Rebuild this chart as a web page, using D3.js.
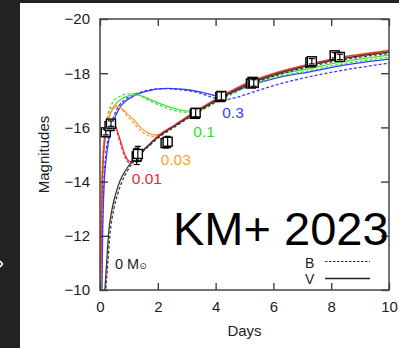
<!DOCTYPE html>
<html><head><meta charset="utf-8">
<script src="https://cdn.jsdelivr.net/npm/d3@7"></script>
<style>
html,body{margin:0;padding:0;background:#232323;}
svg{display:block;}
text{font-family:"Liberation Sans",Arial,Helvetica,sans-serif;}
</style></head>
<body>
<script>
// ---------- data ----------
const xTicks = [0, 2, 4, 6, 8, 10];
const yTicks = [-20, -18, -16, -14, -12, -10];

const blackVDays = [0.14,0.17,0.23,0.29,0.42,0.56,0.7,0.88,1.07,1.3,1.6,2.0,2.6,3.3,4.15,5.2,6.2,7.3,8.2,9.1,10];
const blackVMags = [-9.5,-10,-11,-12,-13,-13.6,-14.05,-14.4,-14.7,-14.97,-15.27,-15.64,-16.07,-16.54,-17.08,-17.63,-18.0,-18.3,-18.51,-18.66,-18.78];
const blackBDays = [0.17,0.2,0.27,0.34,0.48,0.63,0.78,0.95,1.13,1.35,1.65,2.05,2.6,3.3,4.15,5.2,6.2,7.3,8.2,9.1,10];
const blackBMags = [-9.5,-10,-11,-12,-13,-13.6,-14.05,-14.4,-14.7,-14.97,-15.27,-15.64,-16.03,-16.5,-17.04,-17.58,-17.95,-18.25,-18.46,-18.61,-18.73];

const redVDays = [0.01,0.04,0.08,0.15,0.25,0.38,0.5,0.62,0.75,0.88,1.0,1.1,1.25,1.5,1.75,2.0,2.6,3.3,4.15,5.2,6.2,7.3,8.2,9.1,10];
const redVMags = [-9.5,-12,-14,-15.4,-16.05,-16.25,-16.15,-15.8,-15.35,-14.95,-14.76,-14.73,-14.86,-15.15,-15.42,-15.68,-16.1,-16.58,-17.12,-17.68,-18.05,-18.35,-18.56,-18.7,-18.83];
const redBDays = [0.01,0.04,0.08,0.15,0.25,0.37,0.49,0.61,0.74,0.87,1.0,1.1,1.25,1.5,1.75,2.0,2.6,3.3,4.15,5.2,6.2,7.3,8.2,9.1,10];
const redBMags = [-9.5,-12,-14,-15.45,-16.1,-16.28,-16.15,-15.75,-15.3,-14.9,-14.7,-14.68,-14.82,-15.12,-15.4,-15.66,-16.07,-16.54,-17.08,-17.63,-18.0,-18.3,-18.51,-18.65,-18.78];

const orangeVDays = [0.01,0.04,0.08,0.15,0.25,0.4,0.58,0.75,0.95,1.15,1.4,1.65,1.9,2.1,2.4,2.8,3.3,4.15,5.2,6.2,7.3,8.2,9.1,10];
const orangeVMags = [-9.5,-12.5,-14.5,-15.6,-16.2,-16.6,-16.78,-16.7,-16.5,-16.3,-16.0,-15.8,-15.72,-15.75,-15.95,-16.25,-16.6,-17.13,-17.7,-18.06,-18.34,-18.56,-18.72,-18.85];
const orangeBDays = [0.01,0.04,0.08,0.15,0.25,0.38,0.55,0.72,0.92,1.12,1.37,1.62,1.9,2.1,2.4,2.8,3.3,4.15,5.2,6.2,7.3,8.2,9.1,10];
const orangeBMags = [-9.5,-12.6,-14.6,-15.7,-16.3,-16.68,-16.82,-16.7,-16.45,-16.22,-15.92,-15.72,-15.66,-15.72,-15.92,-16.22,-16.56,-17.09,-17.65,-18.01,-18.29,-18.51,-18.67,-18.8];

const greenVDays = [0.02,0.05,0.1,0.18,0.3,0.5,0.75,1.0,1.27,1.55,1.85,2.1,2.5,2.9,3.2,3.5,4.15,5.2,6.2,7.3,8.2,9.1,10];
const greenVMags = [-9.5,-12.5,-14.5,-15.6,-16.3,-16.8,-17.05,-17.17,-17.2,-17.12,-16.98,-16.87,-16.72,-16.62,-16.59,-16.7,-17.08,-17.62,-17.96,-18.18,-18.39,-18.54,-18.67];
const greenBDays = [0.02,0.05,0.1,0.17,0.28,0.46,0.7,0.95,1.18,1.45,1.8,2.1,2.5,2.9,3.2,3.5,4.15,5.2,6.2,7.3,8.2,9.1,10];
const greenBMags = [-9.5,-12.7,-14.7,-15.8,-16.5,-16.95,-17.15,-17.24,-17.25,-17.13,-16.94,-16.8,-16.64,-16.56,-16.55,-16.64,-17.0,-17.54,-17.88,-18.1,-18.31,-18.46,-18.59];

const blueVDays = [0.06,0.09,0.14,0.22,0.3,0.4,0.55,0.7,0.9,1.15,1.45,1.75,2.05,2.35,2.7,3.1,3.5,3.8,4.15,4.6,5.2,6.2,7.3,8.2,9.1,10];
const blueVMags = [-9.5,-12,-13.8,-14.9,-15.5,-16.0,-16.45,-16.76,-16.98,-17.15,-17.28,-17.37,-17.42,-17.44,-17.42,-17.38,-17.3,-17.22,-17.14,-17.3,-17.55,-17.85,-18.06,-18.25,-18.4,-18.52];
const blueBDays = [0.05,0.08,0.13,0.2,0.28,0.38,0.52,0.67,0.87,1.1,1.4,1.7,2.0,2.3,2.7,3.1,3.5,3.8,4.26,4.7,5.2,6.2,7.3,8.2,9.1,10];
const blueBMags = [-9.5,-12,-13.9,-15.0,-15.6,-16.1,-16.52,-16.82,-17.03,-17.18,-17.3,-17.38,-17.42,-17.43,-17.4,-17.35,-17.25,-17.14,-17.02,-17.1,-17.27,-17.6,-17.88,-18.07,-18.23,-18.37];

const obsDays = [0.2, 0.33, 0.38, 1.27, 1.31, 2.27, 2.34, 3.28, 3.31, 4.16, 4.2, 5.22, 5.28, 5.32, 7.28, 7.33, 8.12, 8.3];
const obsMags = [-15.82, -16.05, -16.14, -14.93, -15.02, -15.42, -15.47, -16.5, -16.54, -17.12, -17.16, -17.62, -17.68, -17.64, -18.4, -18.44, -18.66, -18.6];
const obsErrs = [0.1, 0.1, 0.1, 0.3, 0.28, 0.18, 0.2, 0.15, 0.15, 0.15, 0.15, 0.12, 0.12, 0.12, 0.1, 0.1, 0.1, 0.1];

const modelLabels = ["0.01", "0.03", "0.1", "0.3"];
const labelDays = [1.1, 2.1, 3.23, 4.23];
const labelMags = [-13.92, -14.6, -15.66, -16.34];

// ---------- layout ----------
const W = 399, H = 348;
const svg = d3.select("body").append("svg").attr("width", W).attr("height", H);
svg.append("rect").attr("width", W).attr("height", H).attr("fill", "#232323");
svg.append("rect").attr("x", 20).attr("y", 3).attr("width", W - 20).attr("height", H - 3).attr("fill", "#fff");
svg.append("path").attr("d", "M0,261 L2.5,264 L0,267").attr("stroke", "#fff").attr("stroke-width", 1.6).attr("fill", "none");

const x = d3.scaleLinear().domain([0, 10]).range([100, 389]);
const y = d3.scaleLinear().domain([-20, -10]).range([19, 290]);

svg.append("clipPath").attr("id", "clip").append("rect")
  .attr("x", 100).attr("y", 19).attr("width", 289).attr("height", 271);

const plot = svg.append("g").attr("clip-path", "url(#clip)");
const line = d3.line().x(d => x(d[0])).y(d => y(d[1])).curve(d3.curveMonotoneX);
const zip = (a, b) => a.map((v, i) => [v, b[i]]);

const models = [
  {c: "#3a3a3a", v: zip(blackVDays, blackVMags), b: zip(blackBDays, blackBMags)},
  {c: "#f03040", v: zip(redVDays, redVMags), b: zip(redBDays, redBMags)},
  {c: "#ffa040", v: zip(orangeVDays, orangeVMags), b: zip(orangeBDays, orangeBMags)},
  {c: "#40e040", v: zip(greenVDays, greenVMags), b: zip(greenBDays, greenBMags)},
  {c: "#3838ff", v: zip(blueVDays, blueVMags), b: zip(blueBDays, blueBMags)}
];
const order = [4, 3, 2, 1, 0];
order.forEach(i => {
  const m = models[i];
  plot.append("path").attr("d", line(m.b)).attr("fill", "none").attr("stroke", m.c)
    .attr("stroke-width", 1.3).attr("stroke-dasharray", "3,2");
  plot.append("path").attr("d", line(m.v)).attr("fill", "none").attr("stroke", m.c)
    .attr("stroke-width", 1.3);
});

// observations
const obs = obsDays.map((d, i) => ({d, m: obsMags[i], e: obsErrs[i]}));
const og = plot.append("g");
obs.forEach(o => {
  const cx = x(o.d), cy = y(o.m);
  og.append("rect").attr("x", cx - 4.5).attr("y", cy - 4.5).attr("width", 9).attr("height", 9)
    .attr("fill", "#fff").attr("stroke", "#000").attr("stroke-width", 1.4);
  const y1 = y(o.m - o.e), y2 = y(o.m + o.e);
  og.append("line").attr("x1", cx).attr("x2", cx).attr("y1", y1).attr("y2", y2).attr("stroke", "#000").attr("stroke-width", 1.2);
  og.append("line").attr("x1", cx - 3).attr("x2", cx + 3).attr("y1", y1).attr("y2", y1).attr("stroke", "#000").attr("stroke-width", 1.2);
  og.append("line").attr("x1", cx - 3).attr("x2", cx + 3).attr("y1", y2).attr("y2", y2).attr("stroke", "#000").attr("stroke-width", 1.2);
});

// axes
const fs = "15px";
const ax = svg.append("g").attr("transform", "translate(0,290)")
  .call(d3.axisBottom(x).tickValues(xTicks).tickSizeInner(-7).tickSizeOuter(0).tickPadding(11).tickFormat(d3.format("d")));
const ay = svg.append("g").attr("transform", "translate(100,0)")
  .call(d3.axisLeft(y).tickValues(yTicks).tickSizeInner(-8).tickSizeOuter(0).tickPadding(10).tickFormat(d3.format("d")));
const axt = svg.append("g").attr("transform", "translate(0,19)")
  .call(d3.axisTop(x).tickValues(xTicks).tickSizeInner(-7).tickSizeOuter(0).tickFormat(""));
const ayr = svg.append("g").attr("transform", "translate(389,0)")
  .call(d3.axisRight(y).tickValues(yTicks).tickSizeInner(-8).tickSizeOuter(0).tickFormat(""));
[ax, ay, axt, ayr].forEach(g => {
  g.select(".domain").remove();
  g.selectAll(".tick line").attr("stroke", "#333").attr("stroke-width", 1.3);
  g.selectAll("text").attr("font-size", fs).attr("fill", "#1c1c28")
    .attr("font-family", "'Liberation Sans', Arial, sans-serif");
});
svg.append("rect").attr("x", 100).attr("y", 19).attr("width", 289).attr("height", 271)
  .attr("fill", "none").attr("stroke", "#444").attr("stroke-width", 1.5);

// axis titles
svg.append("text").attr("x", 244.5).attr("y", 336).attr("text-anchor", "middle")
  .attr("font-size", "15px").attr("fill", "#1c1c28").text("Days");
svg.append("text").attr("transform", "translate(49,154.5) rotate(-90)").attr("text-anchor", "middle")
  .attr("font-size", "15px").attr("fill", "#1c1c28").text("Magnitudes");

// model labels
const labColors = ["#f02838", "#ffa030", "#30dd30", "#3c3cff"];
modelLabels.forEach((t, i) => {
  svg.append("text").attr("x", x(labelDays[i])).attr("y", y(labelMags[i]))
    .attr("font-size", "15.5px").attr("fill", labColors[i]).text(t);
});
const zt = svg.append("text").attr("x", 115).attr("y", 269).attr("font-size", "14.5px").attr("fill", "#1c1c28");
zt.append("tspan").text("0 M");
zt.append("tspan").attr("font-size", "9px").attr("font-family", "'DejaVu Sans', sans-serif").attr("dy", 0).text("\u2299");

// legend
svg.append("text").attr("x", 305).attr("y", 268).attr("font-size", "14px").attr("fill", "#1c1c28").text("B");
svg.append("text").attr("x", 305).attr("y", 284).attr("font-size", "14px").attr("fill", "#1c1c28").text("V");
svg.append("line").attr("x1", 325).attr("x2", 370).attr("y1", 261.5).attr("y2", 261.5)
  .attr("stroke", "#333").attr("stroke-width", 1.2).attr("stroke-dasharray", "2.5,1.5");
svg.append("line").attr("x1", 325).attr("x2", 370).attr("y1", 278.5).attr("y2", 278.5)
  .attr("stroke", "#222").attr("stroke-width", 1.3);

// overlay text
svg.append("text").attr("x", 173).attr("y", 245).attr("font-size", "47px").attr("fill", "#000").text("KM+ 2023");
</script>
</body></html>
